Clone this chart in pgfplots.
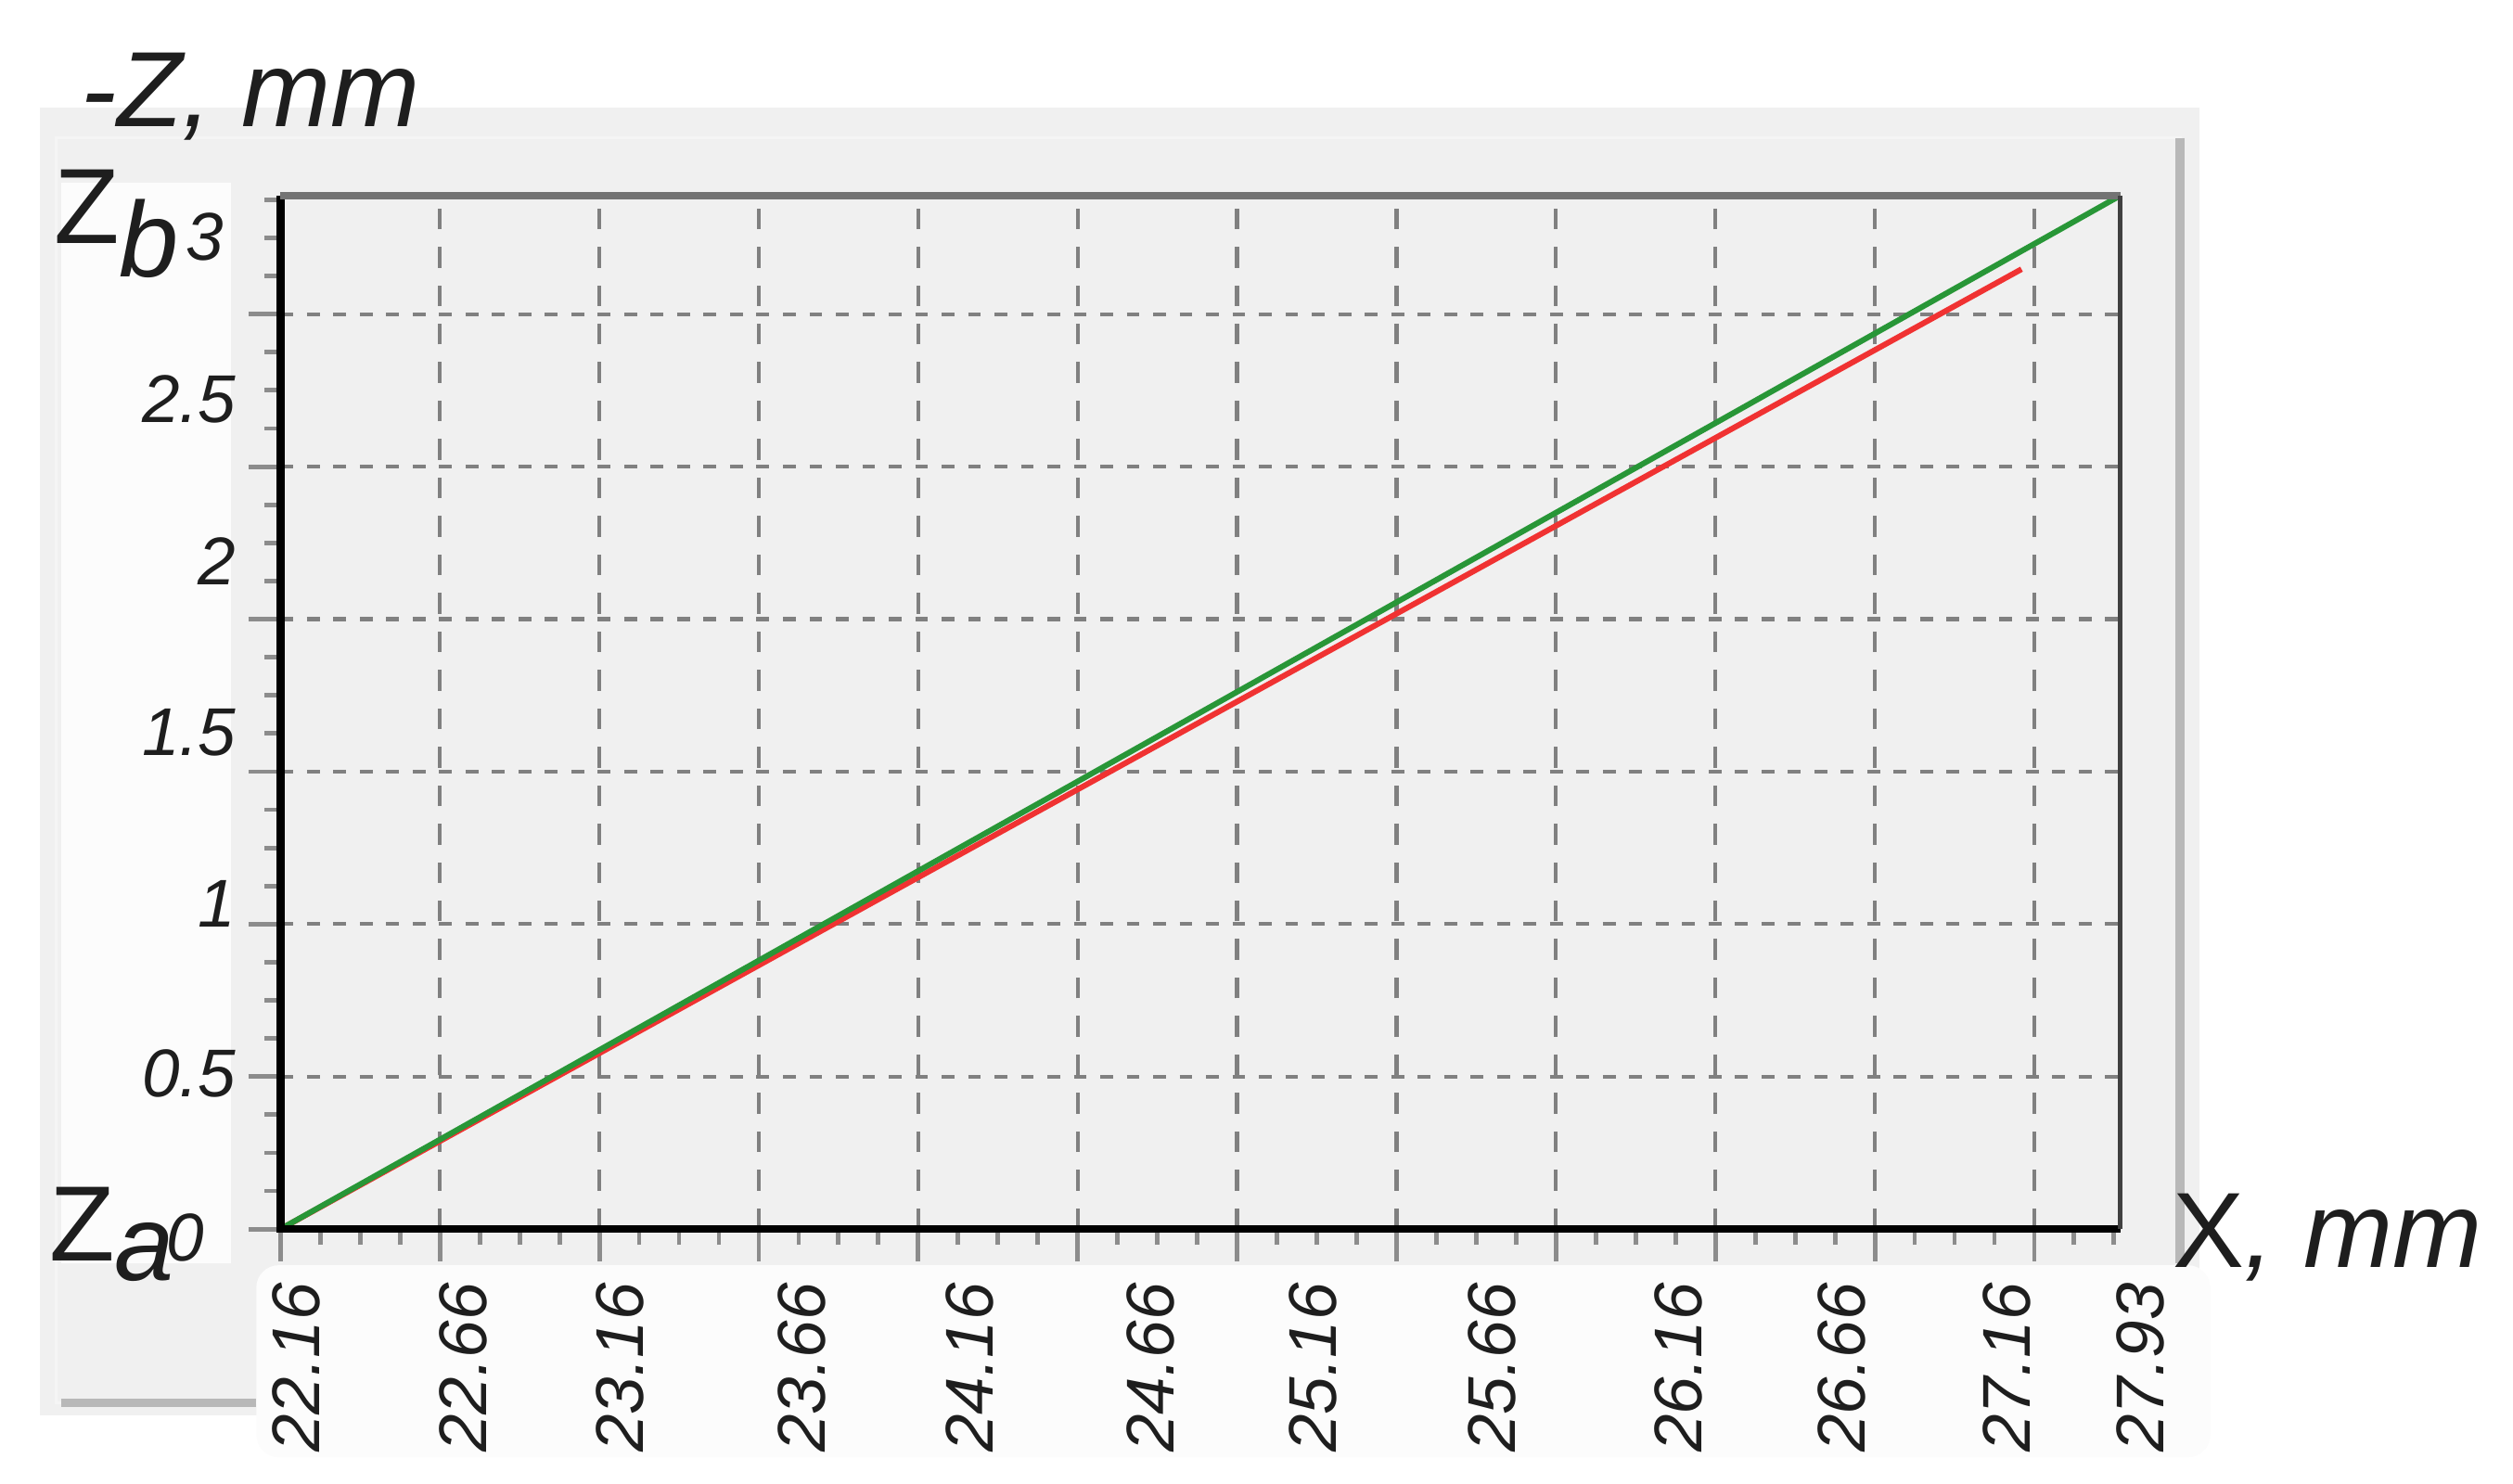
\documentclass[border=0pt]{standalone}
\usepackage{fontspec}
\setmainfont{Liberation Sans}
\usepackage{pgfplots}
\pgfplotsset{compat=1.18}

\definecolor{panel}{RGB}{240,240,240}
\definecolor{gridgray}{RGB}{128,128,128}
\definecolor{tickgray}{RGB}{140,140,140}
\definecolor{framegray}{RGB}{115,115,115}
\definecolor{lgreen}{RGB}{40,150,55}
\definecolor{lred}{RGB}{240,50,50}
\definecolor{ink}{RGB}{30,30,30}

\begin{document}
\begin{tikzpicture}
\useasboundingbox (0,0) rectangle (15.68,-9.26);
% panel behind the chart, in pixel units of the reference
\begin{scope}[x=0.01cm,y=-0.01cm]
\fill[panel] (25,67) rectangle (1373,884);
\draw[white!96!black, line width=0.6pt] (35,86) rectangle (1361,876);
\draw[black!28, line width=1.5pt] (38,876) -- (160,876);
\draw[black!28, line width=1.5pt] (1361,86) -- (1361,789);
\fill[white!99!black] (38,114) rectangle (144,789);
\fill[white!99!black, rounded corners=4pt] (160,790) rectangle (1380,910);
\end{scope}

\begin{axis}[
  at={(1.75cm,-7.67cm)},
  anchor=south west,
  scale only axis,
  width=11.48cm,
  height=6.45cm,
  xmin=22.16, xmax=27.93,
  ymin=0, ymax=3.101,
  clip=false,
  axis background/.style={fill=panel},
  axis line style={draw=none},
  tick align=outside,
  xtick pos=bottom,
  ytick pos=left,
  xtick={22.16,22.66,...,27.7},
  xticklabels={},
  ytick={0,0.4575,...,2.75},
  yticklabels={},
  minor xtick={22.16,22.285,...,27.93},
  minor ytick={0,0.114375,...,3.1},
  major tick length=0.2cm,
  minor tick length=0.1cm,
  tick style={tickgray, line width=0.8pt},
  grid=major,
  major x grid style={gridgray, line width=0.7pt, dash pattern=on 0.13cm off 0.11cm},
  major y grid style={gridgray, line width=0.7pt, dash pattern=on 0.08cm off 0.085cm},
  extra x ticks={22.210,22.733,23.226,23.794,24.321,24.889,25.397,25.960,26.543,27.055,27.573,27.93},
  extra x tick labels={22.16,22.66,23.16,23.66,24.16,24.66,25.16,25.66,26.16,26.66,27.16,\raisebox{-0.12cm}[0.3cm][0pt]{27.93}},
  extra y ticks={0,0.466,0.976,1.490,2.005,2.490,2.976},
  extra y tick labels={\raisebox{-0.05cm}[0.3cm][0pt]{0}\kern0.2cm,0.5,1,1.5,2,2.5,3\kern0.08cm},
  extra tick style={major tick length=0pt, grid=none},
  xticklabel style={rotate=90, anchor=east, inner sep=0pt, text=ink, font=\fontsize{12}{12}\selectfont\itshape},
  xticklabel shift=0.33cm,
  yticklabel style={anchor=east, inner sep=0pt, text=ink, font=\fontsize{12}{12}\selectfont\itshape},
  yticklabel shift=0.27cm,
]
\addplot[lred, line width=1pt] coordinates {(22.16,0) (24.66,1.319) (27.62,2.88)};
\addplot[lgreen, line width=1pt] coordinates {(22.16,0) (24.66,1.343) (27.93,3.101)};
\draw[black, line width=1.4pt] (rel axis cs:0,1) -- (rel axis cs:0,0) -- (rel axis cs:1,0);
\draw[framegray, line width=1.4pt] (rel axis cs:0,1) -- (rel axis cs:1,1);
\draw[black!75, line width=0.8pt] (rel axis cs:1,1) -- (rel axis cs:1,0);
\end{axis}

\node[anchor=base west, inner sep=0pt, text=ink, font=\fontsize{19}{19}\selectfont\itshape] at (0.50cm,-0.79cm) {-Z, mm};
\node[anchor=base west, inner sep=0pt, text=ink, font=\fontsize{19}{19}\selectfont] at (0.33cm,-1.52cm) {Z\raisebox{-0.21cm}{\itshape b}};
\node[anchor=base west, inner sep=0pt, text=ink, font=\fontsize{19}{19}\selectfont] at (0.30cm,-7.87cm) {Z\raisebox{-0.12cm}{\itshape a}};
\node[anchor=base west, inner sep=0pt, text=ink, font=\fontsize{19}{19}\selectfont] at (13.55cm,-7.91cm) {X\itshape, mm};
\end{tikzpicture}
\end{document}
